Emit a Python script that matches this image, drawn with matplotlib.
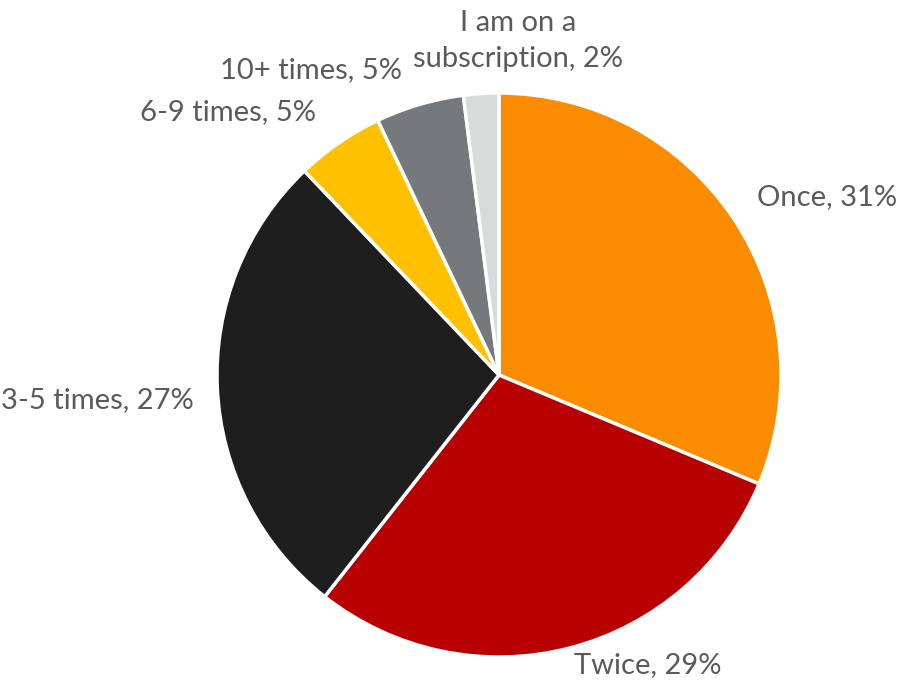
import matplotlib
matplotlib.use("Agg")
import matplotlib.pyplot as plt

# share of respondents by purchase frequency
labels = ["Once", "Twice", "3-5 times", "6-9 times", "10+ times", "I am on a\nsubscription"]
values = [31, 29, 27, 5, 5, 2]
colors = ["#FB8C00", "#B80000", "#1F1E1F", "#FFC000", "#75797C", "#D8DBDA"]

# where each label sits (pixels, top-left origin)
label_pos = [(827, 197), (648, 665), (97, 400), (228, 112), (311, 70), (518, 41)]

W, H = 902, 681
fig = plt.figure(figsize=(W / 100, H / 100), dpi=100)
ax = fig.add_axes([0, 0, 1, 1])

ax.pie(values, colors=colors, startangle=90, counterclock=False,
       center=(499, H - 375), radius=282, frame=True,
       wedgeprops=dict(edgecolor="white", linewidth=2.5))
ax.set_xlim(0, W)
ax.set_ylim(0, H)
ax.axis("off")

for lab, v, (x, y) in zip(labels, values, label_pos):
    ax.text(x, H - y, f"{lab}, {v}%", ha="center", va="center",
            fontsize=21, color="#5a5a5a", family="Lato",
            linespacing=1.45)

fig.savefig("out.png", dpi=100)
